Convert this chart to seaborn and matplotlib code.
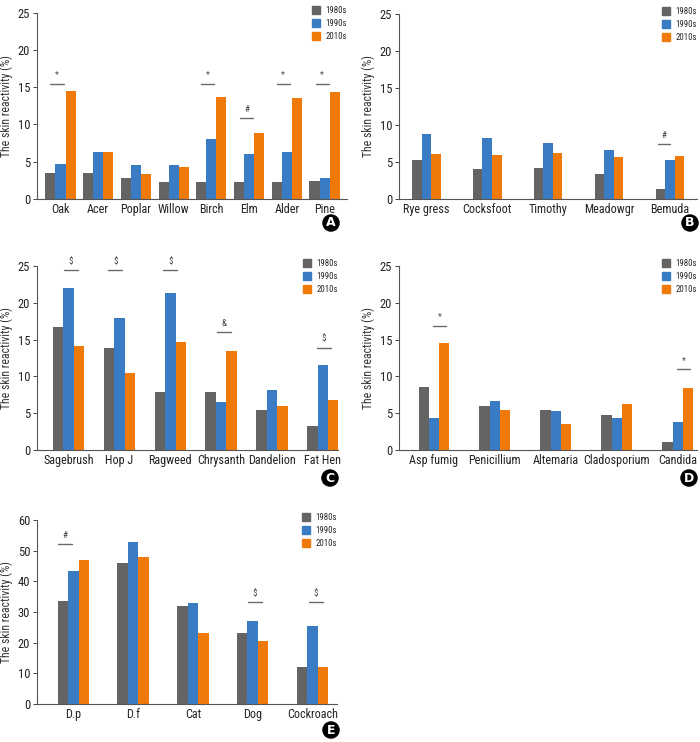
import pandas as pd
import numpy as np
import seaborn as sns
import matplotlib.pyplot as plt
import matplotlib.patches as mpatches

sns.set_style('ticks')
plt.rcParams['font.family'] = ['Roboto Condensed', 'DejaVu Sans']

periods = ['1980s', '1990s', '2010s']
colors = ['#646464', '#3a7cc3', '#ef7a0a']

# %% data
a_cats = ['Oak', 'Acer', 'Poplar', 'Willow', 'Birch', 'Elm', 'Alder', 'Pine']
a_1980 = [3.5, 3.5, 2.8, 2.2, 2.2, 2.2, 2.2, 2.4]
a_1990 = [4.7, 6.3, 4.5, 4.5, 8.1, 6.0, 6.3, 2.8]
a_2010 = [14.5, 6.3, 3.3, 4.3, 13.7, 8.9, 13.5, 14.4]
a_marks = [('Oak', '*', 15.5), ('Birch', '*', 15.5), ('Elm', '#', 10.8),
           ('Alder', '*', 15.5), ('Pine', '*', 15.5)]

b_cats = ['Rye gress', 'Cocksfoot', 'Timothy', 'Meadowgr', 'Bemuda']
b_1980 = [5.3, 4.1, 4.2, 3.4, 1.3]
b_1990 = [8.7, 8.2, 7.6, 6.6, 5.3]
b_2010 = [6.1, 5.9, 6.2, 5.7, 5.8]
b_marks = [('Bemuda', '#', 7.4)]

c_cats = ['Sagebrush', 'Hop J', 'Ragweed', 'Chrysanth', 'Dandelion', 'Fat Hen']
c_1980 = [16.7, 13.8, 7.9, 7.9, 5.5, 3.2]
c_1990 = [22.0, 17.9, 21.4, 6.5, 8.1, 11.6]
c_2010 = [14.2, 10.5, 14.7, 13.5, 6.0, 6.8]
c_marks = [('Sagebrush', '$', 24.4), ('Hop J', '$', 24.4), ('Ragweed', '$', 24.4),
           ('Chrysanth', '&', 16.0), ('Fat Hen', '$', 13.9)]

d_cats = ['Asp fumig', 'Penicillium', 'Altemaria', 'Cladosporium', 'Candida']
d_1980 = [8.5, 6.0, 5.5, 4.8, 1.1]
d_1990 = [4.4, 6.7, 5.3, 4.3, 3.8]
d_2010 = [14.6, 5.5, 3.6, 6.3, 8.4]
d_marks = [('Asp fumig', '*', 16.9), ('Candida', '*', 11.0)]

e_cats = ['D.p', 'D.f', 'Cat', 'Dog', 'Cockroach']
e_1980 = [33.5, 46.0, 32.0, 23.2, 12.0]
e_1990 = [43.5, 52.7, 33.0, 27.2, 25.5]
e_2010 = [46.8, 48.0, 23.0, 20.5, 12.0]
e_marks = [('D.p', '#', 52.1), ('Dog', '$', 33.2), ('Cockroach', '$', 33.2)]


def make_df(cats, v80, v90, v10):
    rows = []
    for vals, p in zip([v80, v90, v10], periods):
        for c, v in zip(cats, vals):
            rows.append({'allergen': c, 'period': p, 'value': v})
    return pd.DataFrame(rows)


def panel(ax, cats, v80, v90, v10, marks, width, xlim, ymax, ystep, offsets):
    df = make_df(cats, v80, v90, v10)
    sns.barplot(data=df, x='allergen', y='value', hue='period', order=cats,
                hue_order=periods, palette=colors, width=width, linewidth=0,
                saturation=1, legend=False, ax=ax)
    ax.set_xlim(*xlim)
    ax.set_ylim(0, ymax)
    ax.set_yticks(np.arange(0, ymax + 1, ystep))
    ax.set_xlabel('')
    ax.set_ylabel('The skin reactivity (%)', fontsize=8.5, color='#333333', labelpad=3)
    ax.tick_params(axis='x', length=0, labelsize=8.7, pad=3, colors='#222222')
    ax.tick_params(axis='y', length=3, labelsize=9, colors='#222222', width=0.6, pad=2)
    sns.despine(ax=ax)
    for s in ['left', 'bottom']:
        ax.spines[s].set_color('#555555')
        ax.spines[s].set_linewidth(0.8)
    bw = width / 3
    for (cat, sym, y), off in zip(marks, offsets):
        xc = cats.index(cat) + off * bw
        ax.plot([xc - 0.65 * bw, xc + 0.65 * bw], [y, y], color='#6a6a6a', lw=1)
        ax.annotate(sym, (xc, y), xytext=(0, 3), textcoords='offset points',
                    ha='center', va='bottom', fontsize=6.5, color='#444444')
    handles = [mpatches.Patch(color=c, label=p) for c, p in zip(colors, periods)]
    ax.legend(handles=handles, loc='upper right', bbox_to_anchor=(1.01, 1.055),
              frameon=False, fontsize=6.3, handlelength=0.9, handleheight=1.0,
              handletextpad=0.6, labelspacing=0.45, borderaxespad=0)


fig = plt.figure(figsize=(7, 7.42), dpi=100)
axA = fig.add_axes([0.053, 0.732, 0.443, 0.2507])
axB = fig.add_axes([0.570, 0.732, 0.426, 0.2493])
axC = fig.add_axes([0.053, 0.3935, 0.430, 0.248])
axD = fig.add_axes([0.570, 0.3935, 0.426, 0.248])
axE = fig.add_axes([0.053, 0.0512, 0.429, 0.248])

panel(axA, a_cats, a_1980, a_1990, a_2010, a_marks, 0.8, (-0.62, 7.6), 25, 5,
      [-0.35, -0.35, -0.25, -0.35, -0.25])
panel(axB, b_cats, b_1980, b_1990, b_2010, b_marks, 0.47, (-0.45, 4.45), 25, 5,
      [-0.6])
panel(axC, c_cats, c_1980, c_1990, c_2010, c_marks, 0.62, (-0.62, 5.3), 25, 5,
      [0.2, -0.4, 0.0, 0.3, 0.1])
panel(axD, d_cats, d_1980, d_1990, d_2010, d_marks, 0.5, (-0.57, 4.32), 25, 5,
      [0.55, 0.6])
panel(axE, e_cats, e_1980, e_1990, e_2010, e_marks, 0.53, (-0.61, 4.42), 60, 10,
      [-0.8, 0.2, 0.35])

for letter, (px, py) in zip('ABCDE', [(331, 223), (690, 223), (330, 478),
                                        (689, 478), (331, 730)]):
    fig.text(px / 700, 1 - py / 742, letter, ha='center', va='center',
             fontsize=9, fontweight='bold', color='white', family='DejaVu Sans',
             bbox=dict(boxstyle='circle,pad=0.18', fc='black', ec='none'))

fig.savefig('out.png', dpi=100)
